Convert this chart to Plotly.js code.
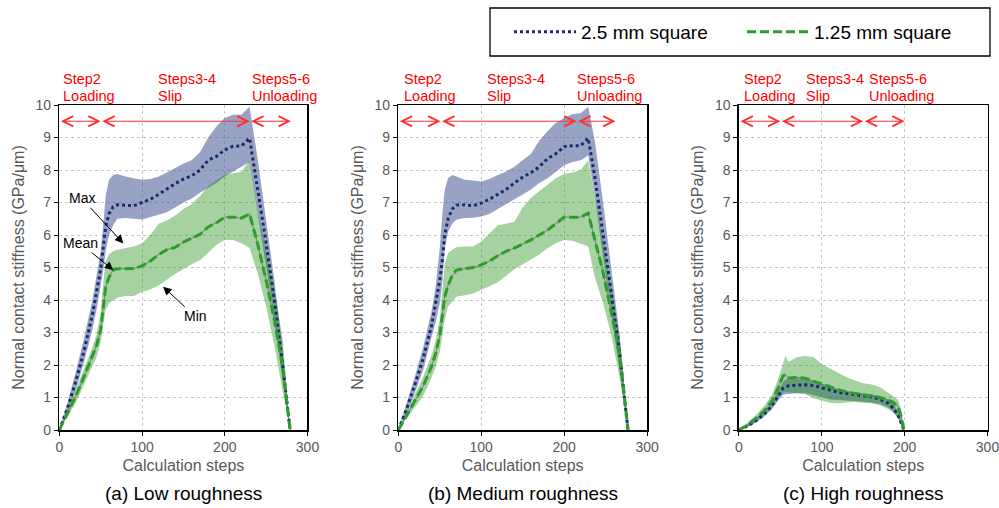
<!DOCTYPE html>
<html>
<head>
<meta charset="utf-8">
<script src="https://cdn.plot.ly/plotly-3.0.1.min.js"></script>
<style>html,body{margin:0;padding:0;background:#fff;}#chart{width:999px;height:508px;}</style>
</head>
<body>
<div id="chart"></div>
<script>
// ---------- Panel (a) Low roughness ----------
const xA = [0,10,20,30,40,45,50,53,56,60,65,70,80,90,100,110,120,130,140,150,160,170,180,190,200,210,220,230,240,250,260,270,279];
const blueMeanA = [0,0.68,1.5,2.45,3.55,4.2,4.95,5.6,6.25,6.65,6.87,6.93,6.92,6.9,7.0,7.1,7.25,7.42,7.58,7.72,7.82,8.0,8.3,8.42,8.62,8.73,8.74,8.98,7.4,5.75,4.0,2.0,0];
const blueMaxA  = [0,0.85,1.8,2.85,4.0,4.7,5.5,6.3,7.2,7.7,7.85,7.88,7.8,7.75,7.7,7.72,7.8,7.92,8.05,8.2,8.3,8.55,9.0,9.35,9.6,9.7,9.7,9.95,8.3,6.5,4.6,2.5,0.1];
const blueMinA  = [0,0.55,1.25,2.1,3.1,3.7,4.4,4.9,5.5,6.0,6.3,6.5,6.52,6.5,6.48,6.55,6.62,6.7,6.85,7.0,7.12,7.3,7.45,7.6,7.8,7.95,8.1,8.25,6.6,5.0,3.4,1.5,0];
const greenMeanA = [0,0.5,1.05,1.65,2.25,2.6,3.1,3.8,4.4,4.7,4.92,4.96,4.97,4.97,5.05,5.2,5.4,5.55,5.62,5.78,5.9,6.02,6.25,6.38,6.55,6.55,6.52,6.65,5.7,4.6,3.38,1.95,0];
const greenMaxA  = [0,0.6,1.25,1.9,2.55,2.95,3.6,4.5,5.2,5.4,5.5,5.55,5.6,5.65,5.75,6.0,6.35,6.45,6.6,6.8,6.95,7.2,7.5,7.7,7.85,7.9,7.95,8.3,6.7,5.5,4.3,2.8,0.1];
const greenMinA  = [0,0.4,0.85,1.4,1.95,2.25,2.7,3.2,3.7,3.9,3.98,4.08,4.12,4.12,4.25,4.32,4.45,4.62,4.8,4.95,5.1,5.22,5.45,5.7,5.85,5.85,5.75,5.6,4.8,3.8,2.6,1.2,0];

// ---------- Panel (b) Medium roughness ----------
const xB = [0,10,20,30,40,45,50,53,56,60,65,70,80,90,100,110,120,130,140,150,160,170,180,190,200,210,220,229,237,247,257,267,277];
const blueMeanB = [0,0.65,1.4,2.2,3.2,3.85,4.6,5.2,6.0,6.5,6.8,6.92,6.93,6.9,6.98,7.1,7.25,7.4,7.6,7.78,7.92,8.1,8.35,8.5,8.72,8.75,8.75,8.98,7.8,6.05,4.2,2.35,0];
const blueMaxB  = [0,0.8,1.65,2.55,3.65,4.4,5.6,6.6,7.4,7.75,7.85,7.8,7.7,7.68,7.65,7.72,7.85,7.95,8.1,8.3,8.5,8.9,9.2,9.45,9.6,9.72,9.75,9.95,8.9,7.0,4.9,2.9,0.1];
const blueMinB  = [0,0.5,1.15,1.85,2.85,3.3,3.9,4.5,5.6,6.1,6.35,6.47,6.52,6.53,6.57,6.65,6.8,6.95,7.1,7.25,7.4,7.6,7.75,7.95,8.15,8.25,8.3,8.45,7.2,5.3,3.5,1.8,0];
const greenMeanB = [0,0.45,0.9,1.35,1.95,2.35,2.9,3.5,4.1,4.45,4.75,4.92,4.97,5.0,5.08,5.2,5.36,5.5,5.6,5.72,5.85,6.0,6.15,6.35,6.55,6.55,6.55,6.67,5.85,4.85,3.6,2.35,0];
const greenMaxB  = [0,0.55,1.1,1.65,2.3,2.75,3.4,4.3,5.1,5.45,5.55,5.62,5.65,5.65,5.8,6.05,6.3,6.35,6.4,6.85,7.15,7.35,7.55,7.75,7.88,7.92,8.0,8.3,7.2,5.8,4.3,2.9,0.1];
const greenMinB  = [0,0.35,0.7,1.05,1.6,1.95,2.4,2.9,3.4,3.8,3.95,4.1,4.15,4.2,4.3,4.42,4.55,4.75,4.95,5.1,5.25,5.4,5.6,5.75,5.85,5.82,5.72,5.65,4.7,3.9,2.9,1.6,0];

// ---------- Panel (c) High roughness ----------
const xC = [0,10,20,30,40,47,53,56,60,70,80,90,100,110,120,130,140,150,160,170,180,186,192,196,199];
const blueMeanC = [0,0.12,0.28,0.48,0.75,1.03,1.28,1.33,1.36,1.38,1.39,1.37,1.3,1.22,1.16,1.12,1.08,1.05,1.02,0.95,0.83,0.68,0.46,0.2,0];
const blueMaxC  = [0,0.16,0.34,0.56,0.85,1.18,1.48,1.55,1.57,1.59,1.58,1.5,1.4,1.32,1.25,1.2,1.16,1.13,1.1,1.04,0.95,0.8,0.58,0.3,0.02];
const blueMinC  = [0,0.08,0.22,0.4,0.65,0.9,1.08,1.1,1.12,1.13,1.13,1.08,1.01,0.94,0.92,0.9,0.89,0.87,0.85,0.8,0.7,0.56,0.36,0.12,0];
const greenMeanC = [0,0.15,0.35,0.58,0.9,1.28,1.66,1.7,1.6,1.62,1.59,1.5,1.4,1.32,1.24,1.17,1.12,1.08,1.05,1.0,0.92,0.85,0.72,0.4,0];
const greenMaxC  = [0,0.22,0.45,0.72,1.1,1.55,2.05,2.28,2.1,2.25,2.28,2.25,2.02,1.88,1.75,1.62,1.52,1.44,1.4,1.32,1.15,1.05,0.92,0.62,0.05];
const greenMinC  = [0,0.1,0.25,0.45,0.72,1.0,1.15,1.18,1.15,1.13,1.1,0.98,0.9,0.84,0.82,0.85,0.86,0.84,0.82,0.76,0.65,0.55,0.4,0.15,0];

// ---------- Text ----------
const seriesNames = ['2.5 mm square', '1.25 mm square'];
const captions = ['(a) Low roughness', '(b) Medium roughness', '(c) High roughness'];
const stepTop = ['Step2', 'Steps3-4', 'Steps5-6'];
const stepBottom = ['Loading', 'Slip', 'Unloading'];
const stepLabelX = [[2.2, 116.5, 230.5], [4.5, 104.5, 213.5], [3.8, 78.5, 154]];
const stepBounds = [[0, 50, 230, 280], [0, 51, 215, 262], [0, 50, 150, 200]];
const xTitle = 'Calculation steps';
const yTitle = 'Normal contact stiffness (GPa/μm)';

const BLUE_LINE = '#1a2b6b';
const GREEN_LINE = '#2c9c2c';
const BLUE_BAND = 'rgba(65,85,150,0.55)';
const GREEN_BAND = 'rgba(30,142,17,0.4)';

const panels = [
  {x: xA, bm: blueMeanA, bh: blueMaxA, bl: blueMinA, gm: greenMeanA, gh: greenMaxA, gl: greenMinA},
  {x: xB, bm: blueMeanB, bh: blueMaxB, bl: blueMinB, gm: greenMeanB, gh: greenMaxB, gl: greenMinB},
  {x: xC, bm: blueMeanC, bh: blueMaxC, bl: blueMinC, gm: greenMeanC, gh: greenMaxC, gl: greenMinC}
];

function band(x, hi, lo, color, xa, ya) {
  return {
    x: x.concat(x.slice().reverse()),
    y: hi.concat(lo.slice().reverse()),
    type: 'scatter', mode: 'lines', fill: 'toself', fillcolor: color,
    line: {width: 0, color: color}, showlegend: false, hoverinfo: 'skip',
    xaxis: xa, yaxis: ya
  };
}

const traces = [];
panels.forEach((p, i) => {
  const xa = i === 0 ? 'x' : 'x' + (i + 1);
  const ya = i === 0 ? 'y' : 'y' + (i + 1);
  traces.push(band(p.x, p.bh, p.bl, BLUE_BAND, xa, ya));
  traces.push(band(p.x, p.gh, p.gl, GREEN_BAND, xa, ya));
  traces.push({x: p.x, y: p.gm, type: 'scatter', mode: 'lines', line: {color: '#7a7a7a', width: 1},
    showlegend: false, hoverinfo: 'skip', xaxis: xa, yaxis: ya});
  traces.push({x: p.x, y: p.bm, type: 'scatter', mode: 'lines', name: seriesNames[0],
    line: {color: BLUE_LINE, width: 3, dash: 'dot'}, showlegend: i === 0, legendrank: 1, xaxis: xa, yaxis: ya});
  traces.push({x: p.x, y: p.gm, type: 'scatter', mode: 'lines', name: seriesNames[1],
    line: {color: GREEN_LINE, width: 3, dash: '9px,4px'}, showlegend: i === 0, legendrank: 2, xaxis: xa, yaxis: ya});
});

const FONT = 'Liberation Sans, Arial, sans-serif';
const GRAY = '#595959';
const xDomains = [[0.0594, 0.3078], [0.3987, 0.6477], [0.7397, 0.9885]];
const yDomain = [0.1535, 0.7933];

const layout = {
  width: 999, height: 508,
  margin: {l: 0, r: 0, t: 0, b: 0},
  paper_bgcolor: '#fff', plot_bgcolor: '#fff',
  font: {family: FONT, color: GRAY, size: 14},
  showlegend: true,
  legend: {
    orientation: 'h', x: 0.5095, xanchor: 'left', y: 0.937, yanchor: 'middle',
    borderwidth: 0, bgcolor: 'rgba(0,0,0,0)',
    font: {family: FONT, size: 19, color: '#000'},
    itemwidth: 62, entrywidth: 156, traceorder: 'normal'
  },
  annotations: [],
  shapes: [{
    type: 'rect', xref: 'paper', yref: 'paper',
    x0: 490 / 999, x1: 990 / 999, y0: (508 - 56) / 508, y1: (508 - 8) / 508,
    line: {color: '#000', width: 1.3}, fillcolor: 'rgba(0,0,0,0)', layer: 'above'
  }]
};

panels.forEach((p, i) => {
  const sx = i === 0 ? '' : String(i + 1);
  const xa = 'x' + sx, ya = 'y' + sx;
  layout['xaxis' + sx] = {
    domain: xDomains[i], anchor: ya, range: [0, 300], dtick: 100,
    showline: true, linecolor: '#000', linewidth: 1.5, mirror: true,
    ticks: 'outside', ticklen: 4, tickcolor: '#000', tickwidth: 1,
    showgrid: true, gridcolor: '#c8c8c8', griddash: 'dot', gridwidth: 1, zeroline: false,
    tickfont: {size: 14, color: GRAY}, ticklabeloverflow: 'allow',
    title: {text: xTitle, font: {size: 16, color: GRAY}, standoff: 5},
    fixedrange: true
  };
  layout['yaxis' + sx] = {
    domain: yDomain, anchor: xa, range: [0, 10], dtick: 1,
    showline: true, linecolor: '#000', linewidth: 1.5, mirror: true,
    ticks: 'outside', ticklen: 4, tickcolor: '#000', tickwidth: 1,
    showgrid: true, gridcolor: '#c8c8c8', griddash: 'dot', gridwidth: 1, zeroline: false,
    tickfont: {size: 14, color: GRAY}, ticklabeloverflow: 'allow',
    title: {text: yTitle, font: {size: 16, color: GRAY}, standoff: 7},
    fixedrange: true
  };
  // captions
  layout.annotations.push({
    xref: 'paper', yref: 'paper', x: (xDomains[i][0] + xDomains[i][1]) / 2, y: 0.0276,
    xanchor: 'center', yanchor: 'middle', showarrow: false, text: captions[i],
    font: {size: 19, color: '#000', family: FONT}
  });
  // step labels (two lines)
  for (let k = 0; k < 3; k++) {
    layout.annotations.push({
      xref: xa, yref: ya + ' domain', x: stepLabelX[i][k], y: 1.08, xanchor: 'left', yanchor: 'middle',
      align: 'left', showarrow: false, text: stepTop[k], font: {size: 14.5, color: '#ff0000', family: FONT}
    });
    layout.annotations.push({
      xref: xa, yref: ya + ' domain', x: stepLabelX[i][k], y: 1.027, xanchor: 'left', yanchor: 'middle',
      align: 'left', showarrow: false, text: stepBottom[k], font: {size: 14.5, color: '#ff0000', family: FONT}
    });
  }
  // red double arrows
  const b = stepBounds[i];
  for (let k = 0; k < 3; k++) {
    layout.annotations.push({
      xref: xa, yref: ya, axref: xa, ayref: ya,
      x: b[k + 1], y: 9.5, ax: b[k], ay: 9.5, text: '',
      showarrow: true, arrowside: 'end+start', arrowhead: 5, startarrowhead: 5,
      arrowsize: 2, startarrowsize: 2, arrowwidth: 1, arrowcolor: '#ff3030',
      standoff: 0, startstandoff: 0
    });
  }
});

// Max / Mean / Min pointers in panel (a)
const pointerLabels = ['Max', 'Mean', 'Min'];
const pointerHead = [[77.4, 5.74], [65.3, 4.92], [125.4, 4.41]];
const pointerText = [[27, 7.13], [25, 5.75], [164, 3.5]];
pointerLabels.forEach((t, k) => {
  layout.annotations.push({
    xref: 'x', yref: 'y', axref: 'x', ayref: 'y',
    x: pointerHead[k][0], y: pointerHead[k][1], ax: pointerText[k][0], ay: pointerText[k][1],
    text: t, showarrow: true, arrowhead: 2, arrowsize: 1.7, arrowwidth: 1, arrowcolor: '#000',
    font: {size: 14, color: '#000', family: FONT}, standoff: 0
  });
});

Plotly.newPlot('chart', traces, layout, {displayModeBar: false, staticPlot: true});
</script>
</body>
</html>
